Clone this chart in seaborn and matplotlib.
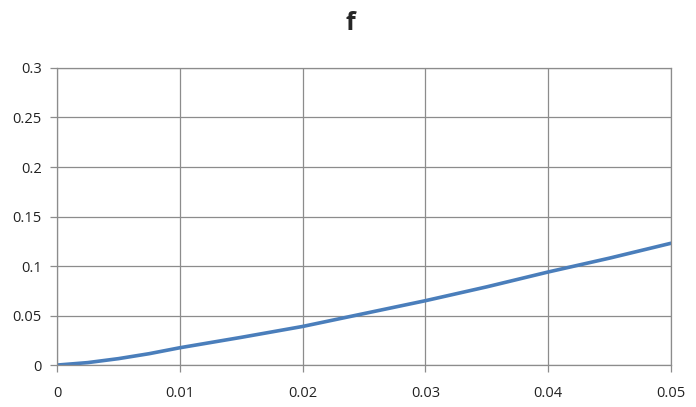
import numpy as np
import pandas as pd
import matplotlib
matplotlib.use('Agg')
import matplotlib.pyplot as plt
import seaborn as sns

# values
x_vals = [0, 0.0025, 0.005, 0.0075, 0.01, 0.015, 0.02, 0.025, 0.03, 0.035, 0.04, 0.045, 0.05]
f_vals = [0, 0.0025, 0.0065, 0.0115, 0.0175, 0.028, 0.039, 0.052, 0.065, 0.079, 0.094, 0.108, 0.123]
x_ticks = [0, 0.01, 0.02, 0.03, 0.04, 0.05]
x_labels = ['0', '0.01', '0.02', '0.03', '0.04', '0.05']
y_ticks = [0, 0.05, 0.1, 0.15, 0.2, 0.25, 0.3]
y_labels = ['0', '0.05', '0.1', '0.15', '0.2', '0.25', '0.3']

sns.set_style('white')
plt.rcParams['font.family'] = ['Open Sans', 'DejaVu Sans']

df = pd.DataFrame({'x': x_vals, 'f': f_vals})

fig = plt.figure(figsize=(6.96, 4.07), dpi=100)
ax = fig.add_axes([0.082, 0.103, 0.882, 0.730])

grid_col = '#8c8c8c'
sns.lineplot(data=df, x='x', y='f', ax=ax, color='#4a7ebb', linewidth=2.6)

ax.set_xlim(0, 0.05)
ax.set_ylim(0, 0.3)
ax.set_xticks(x_ticks)
ax.set_xticklabels(x_labels)
ax.set_yticks(y_ticks)
ax.set_yticklabels(y_labels)
ax.grid(True, color=grid_col, linewidth=0.9)
ax.set_axisbelow(True)
for s in ax.spines.values():
    s.set_color(grid_col)
    s.set_linewidth(0.9)
ax.tick_params(axis='both', which='both', direction='out', length=5, width=0.9,
               color=grid_col, labelsize=10.5, labelcolor='#222222', pad=6,
               bottom=True, left=True)
ax.tick_params(axis='x', pad=10)
ax.set_xlabel('')
ax.set_ylabel('')
fig.text(0.503, 0.943, 'f', ha='center', va='center', fontsize=18, fontweight='bold')

plt.savefig('out.png', dpi=100)
